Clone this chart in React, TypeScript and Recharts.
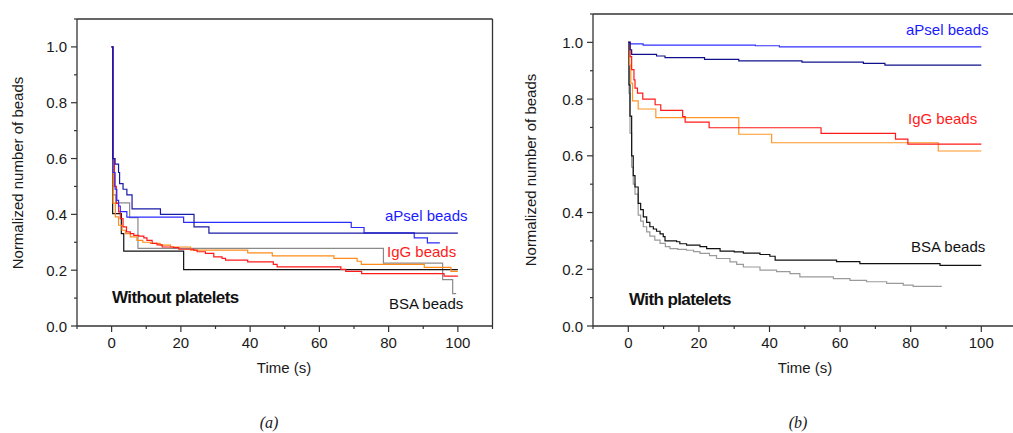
import React from 'react';
import { LineChart, Line, XAxis, YAxis } from 'recharts';

// time (s), normalized number of beads
const aPselA1: [number, number][] = [
  [0, 1], [0.3, 0.6], [1, 0.58], [2, 0.55], [2.3, 0.51], [3.3, 0.49], [4.4, 0.47],
  [5.9, 0.42], [14.1, 0.4], [23.8, 0.355], [28.1, 0.333], [100, 0.333],
];
const aPselA2: [number, number][] = [
  [0, 1], [0.4, 0.55], [1, 0.49], [1.5, 0.45], [2, 0.43], [2.5, 0.41], [4.4, 0.39],
  [20.8, 0.371], [69.2, 0.353], [72.9, 0.334], [87.4, 0.316], [91.2, 0.298], [94.8, 0.298],
];
const iggA1: [number, number][] = [
  [0, 1], [0.4, 0.6], [0.8, 0.5], [1.36, 0.439], [2, 0.409], [2.5, 0.385], [3.3, 0.355],
  [4.3, 0.337], [5.4, 0.331], [6.4, 0.325], [7.8, 0.322], [9.3, 0.316], [10.2, 0.307],
  [11.7, 0.296], [13.1, 0.291], [14.6, 0.283], [17.9, 0.281], [19.4, 0.275], [23.7, 0.272],
  [24.7, 0.266], [27.1, 0.26], [29.5, 0.248], [31.9, 0.242], [32.9, 0.236], [39.3, 0.23],
  [46.7, 0.221], [47.8, 0.212], [66.2, 0.203], [67.6, 0.196], [72.2, 0.188], [96, 0.179],
  [100, 0.179],
];
const iggA2: [number, number][] = [
  [0, 1], [0.4, 0.44], [1.07, 0.391], [2, 0.361], [3, 0.343], [4, 0.331], [5.4, 0.319],
  [7.3, 0.307], [9, 0.3], [11.2, 0.296], [14, 0.29], [17, 0.283], [22.8, 0.272],
  [39.3, 0.262], [46.4, 0.251], [64.2, 0.242], [70.9, 0.232], [72.1, 0.221], [90.3, 0.21],
  [98, 0.196], [100, 0.196],
];
const bsaA1: [number, number][] = [
  [0, 1], [0.3, 0.403], [2.8, 0.331], [3.5, 0.268], [20.8, 0.202], [100, 0.202],
];
const bsaA2: [number, number][] = [
  [0, 1], [0.3, 0.47], [1.2, 0.441], [5.2, 0.388], [7.6, 0.278], [78.5, 0.225],
  [95.6, 0.166], [98.5, 0.116], [99.5, 0.116],
];

const aPselB1: [number, number][] = [
  [0, 1], [0.5, 0.995], [4.2, 0.99], [36, 0.988], [42.8, 0.984], [100, 0.984],
];
const aPselB2: [number, number][] = [
  [0, 1], [0.5, 0.974], [0.95, 0.958], [8, 0.952], [10.4, 0.946], [21.6, 0.94],
  [31.3, 0.935], [49.2, 0.93], [66.6, 0.926], [72.7, 0.92], [100, 0.92],
];
const iggB1: [number, number][] = [
  [0, 1], [0.5, 0.95], [0.95, 0.904], [1.6, 0.868], [1.9, 0.839], [2.6, 0.821], [4.1, 0.8],
  [7.6, 0.78], [9.2, 0.76], [15.4, 0.738], [16.1, 0.719], [22.9, 0.699], [54.6, 0.679],
  [75.7, 0.659], [79.2, 0.641], [100, 0.641],
];
const iggB2: [number, number][] = [
  [0, 1], [0.4, 0.92], [0.7, 0.856], [1.2, 0.794], [2.8, 0.765], [7.8, 0.735],
  [31.3, 0.676], [40.6, 0.646], [87.8, 0.617], [100, 0.617],
];
const bsaB1: [number, number][] = [
  [0, 1], [0.2, 0.85], [0.48, 0.74], [0.95, 0.6], [1.4, 0.53], [1.9, 0.49], [2.8, 0.432],
  [3.5, 0.41], [4.25, 0.385], [5.2, 0.365], [6.1, 0.35], [7.1, 0.342], [8, 0.334],
  [9, 0.325], [9.9, 0.315], [10.4, 0.3], [13.7, 0.297], [14.6, 0.29], [16.5, 0.285],
  [20.3, 0.28], [22.2, 0.273], [26, 0.264], [30, 0.261], [32.6, 0.257], [37.3, 0.252],
  [40.1, 0.246], [41.6, 0.232], [59, 0.227], [65.6, 0.22], [88.3, 0.214], [100, 0.214],
];
const bsaB2: [number, number][] = [
  [0, 1], [0.2, 0.82], [0.48, 0.68], [0.95, 0.56], [1.4, 0.5], [1.9, 0.465], [2.8, 0.391],
  [3.5, 0.37], [4.25, 0.35], [5.2, 0.332], [6.1, 0.317], [7.5, 0.303], [9, 0.291],
  [10.5, 0.28], [11.8, 0.273], [14, 0.27], [16.5, 0.267], [18.5, 0.262], [20.3, 0.256],
  [23, 0.248], [25, 0.238], [28.8, 0.226], [30.7, 0.217], [32.6, 0.208], [37.3, 0.197],
  [42, 0.192], [45.8, 0.185], [48.6, 0.173], [58.1, 0.167], [62.8, 0.161], [67.5, 0.156],
  [73.2, 0.15], [77.9, 0.144], [80.7, 0.14], [88.8, 0.14],
];

const xTicks = [-10, 0, 10, 20, 30, 40, 50, 60, 70, 80, 90, 100, 110];
const xMajor = [0, 20, 40, 60, 80, 100];
const yTicks = [0, 0.1, 0.2, 0.3, 0.4, 0.5, 0.6, 0.7, 0.8, 0.9, 1.0, 1.1];
const yMajor = [0, 0.2, 0.4, 0.6, 0.8, 1.0];

const FONT = '"Liberation Sans", Arial, sans-serif';
const AXIS = '#333';
const TXT = '#1a1a1a';

const toRows = (pts: [number, number][]) => pts.map(([t, v]) => ({ t, v }));

const isMajorX = (v: number) => xMajor.some((m) => Math.abs(m - v) < 1e-6);
const isMajorY = (v: number) => yMajor.some((m) => Math.abs(m - v) < 1e-6);

function BottomTick({ x, y, payload }: any) {
  const major = isMajorX(payload.value);
  return (
    <g>
      <line x1={x} x2={x} y1={y} y2={y + (major ? 6 : 3)} stroke={AXIS} strokeWidth={1.2} />
      {major && (
        <text x={x} y={y + 22} textAnchor="middle" fontSize={15} fontFamily={FONT} fill={TXT}>
          {payload.value}
        </text>
      )}
    </g>
  );
}

function TopTick({ x, y, payload }: any) {
  const major = isMajorX(payload.value);
  return <line x1={x} x2={x} y1={y} y2={y - (major ? 6 : 3)} stroke={AXIS} strokeWidth={1.2} />;
}

function LeftTick({ x, y, payload }: any) {
  const major = isMajorY(payload.value);
  return (
    <g>
      <line x1={x} x2={x - (major ? 6 : 3)} y1={y} y2={y} stroke={AXIS} strokeWidth={1.2} />
      {major && (
        <text x={x - 10} y={y + 5.5} textAnchor="end" fontSize={15} fontFamily={FONT} fill={TXT}>
          {payload.value.toFixed(1)}
        </text>
      )}
    </g>
  );
}

function RightTick({ x, y, payload }: any) {
  const major = isMajorY(payload.value);
  return <line x1={x} x2={x + (major ? 6 : 3)} y1={y} y2={y} stroke={AXIS} strokeWidth={1.2} />;
}

interface Series {
  key: string;
  pts: [number, number][];
  color: string;
}

interface PanelProps {
  series: Series[];
  width: number;
  margin: { top: number; right: number; bottom: number; left: number };
}

function Panel({ series, width, margin }: PanelProps) {
  return (
    <LineChart width={width} height={433} margin={margin}>
      <XAxis
        xAxisId="b"
        dataKey="t"
        type="number"
        domain={[-10, 110]}
        ticks={xTicks}
        interval={0}
        height={30}
        tickSize={0}
        tickMargin={0}
        tickLine={false}
        tick={<BottomTick />}
        axisLine={{ stroke: AXIS, strokeWidth: 1.3 }}
      />
      <XAxis
        xAxisId="top"
        orientation="top"
        dataKey="t"
        type="number"
        domain={[-10, 110]}
        ticks={xTicks}
        interval={0}
        height={10}
        tickSize={0}
        tickMargin={0}
        tickLine={false}
        tick={<TopTick />}
        axisLine={{ stroke: AXIS, strokeWidth: 1.3 }}
      />
      <YAxis
        yAxisId="l"
        type="number"
        domain={[0, 1.1]}
        ticks={yTicks}
        interval={0}
        width={60}
        tickSize={0}
        tickMargin={0}
        tickLine={false}
        tick={<LeftTick />}
        axisLine={{ stroke: AXIS, strokeWidth: 1.3 }}
      />
      <YAxis
        yAxisId="right"
        orientation="right"
        type="number"
        domain={[0, 1.1]}
        ticks={yTicks}
        interval={0}
        width={10}
        tickSize={0}
        tickMargin={0}
        tickLine={false}
        tick={<RightTick />}
        axisLine={{ stroke: AXIS, strokeWidth: 1.3 }}
      />
      {series.map((s) => (
        <Line
          key={s.key}
          xAxisId="b"
          yAxisId="l"
          data={toRows(s.pts)}
          dataKey="v"
          type="stepAfter"
          stroke={s.color}
          strokeWidth={1.2}
          dot={false}
          activeDot={false}
          isAnimationActive={false}
        />
      ))}
    </LineChart>
  );
}

const seriesA: Series[] = [
  { key: 'bsa2', pts: bsaA2, color: '#8a8a8a' },
  { key: 'bsa1', pts: bsaA1, color: '#111111' },
  { key: 'igg2', pts: iggA2, color: '#ff8c1a' },
  { key: 'igg1', pts: iggA1, color: '#ff1a1a' },
  { key: 'apsel2', pts: aPselA2, color: '#2b2bff' },
  { key: 'apsel1', pts: aPselA1, color: '#1a1aa8' },
];

const seriesB: Series[] = [
  { key: 'bsa2', pts: bsaB2, color: '#9a9a9a' },
  { key: 'bsa1', pts: bsaB1, color: '#111111' },
  { key: 'igg2', pts: iggB2, color: '#ff9626' },
  { key: 'igg1', pts: iggB1, color: '#ff1a1a' },
  { key: 'apsel1', pts: aPselB1, color: '#3030ff' },
  { key: 'apsel2', pts: aPselB2, color: '#10108c' },
];

const txt = { fontFamily: FONT, fontSize: 15 };

export default function App() {
  return (
    <div
      style={{
        position: 'absolute',
        left: 0,
        top: 0,
        width: 1013,
        height: 433,
        overflow: 'hidden',
        background: '#fff',
      }}
    >
      <div style={{ position: 'absolute', left: 0, top: 0 }}>
        <Panel series={seriesA} width={510} margin={{ top: 9, right: 7.5, bottom: 77, left: 17 }} />
      </div>
      <div style={{ position: 'absolute', left: 513, top: 0 }}>
        <Panel series={seriesB} width={520} margin={{ top: 4, right: 6.4, bottom: 77, left: 20 }} />
      </div>
      <svg
        width={1013}
        height={433}
        style={{ position: 'absolute', left: 0, top: 0, pointerEvents: 'none' }}
      >
        {/* panel (a) */}
        <text {...txt} fill={TXT} transform="translate(23,173) rotate(-90)" textAnchor="middle">
          Normalized number of beads
        </text>
        <text {...txt} fill={TXT} x={284} y={373} textAnchor="middle">Time (s)</text>
        <text x={269} y={428} textAnchor="middle" fontFamily='"Liberation Serif", serif' fontStyle="italic" fontSize={16} fill={TXT}>
          (a)
        </text>
        <text {...txt} x={385} y={221} fill="#1a1aff">aPsel beads</text>
        <text {...txt} x={387} y={257} fill="#ff1a1a">IgG beads</text>
        <text {...txt} x={389} y={308.5} fill="#111">BSA beads</text>
        <text x={112} y={303} fontFamily={FONT} fontSize={17} fontWeight="bold" letterSpacing={-0.6} fill="#111">
          Without platelets
        </text>

        {/* panel (b) */}
        <text {...txt} fill={TXT} transform="translate(536,170) rotate(-90)" textAnchor="middle">
          Normalized number of beads
        </text>
        <text {...txt} fill={TXT} x={805} y={373} textAnchor="middle">Time (s)</text>
        <text x={798} y={428} textAnchor="middle" fontFamily='"Liberation Serif", serif' fontStyle="italic" fontSize={16} fill={TXT}>
          (b)
        </text>
        <text {...txt} x={906} y={35} fill="#1a1aff">aPsel beads</text>
        <text {...txt} x={908} y={123.5} fill="#ff1a1a">IgG beads</text>
        <text {...txt} x={911} y={251.5} fill="#111">BSA beads</text>
        <text x={629} y={305} fontFamily={FONT} fontSize={17} fontWeight="bold" letterSpacing={-0.6} fill="#111">
          With platelets
        </text>
      </svg>
    </div>
  );
}
